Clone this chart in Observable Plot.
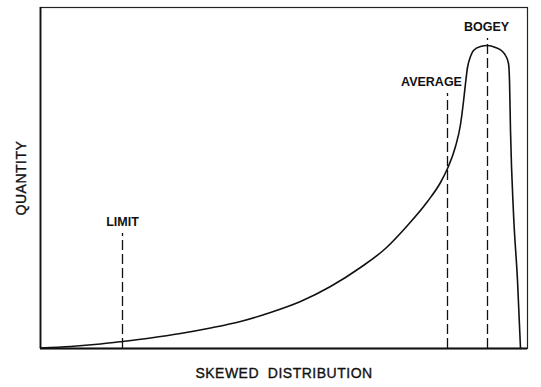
<!DOCTYPE html>
<html>
<head>
<meta charset="utf-8">
<script src="https://cdn.jsdelivr.net/npm/d3@7"></script>
<script src="https://cdn.jsdelivr.net/npm/@observablehq/plot@0.6"></script>
<style>
  html, body { margin: 0; padding: 0; background: #fff; }
  svg { display: block; }
</style>
</head>
<body>
<div id="chart"></div>
<script>
// Curve of the skewed distribution (abstract units)
const curveX = [0, 30, 60, 82, 110, 140, 170, 200, 230, 260, 290, 320, 345, 367, 387, 400, 407, 415, 420, 423, 425, 427, 430, 433, 440, 447, 455, 462, 465, 468, 469, 470, 473, 477, 480];
const curveY = [0.5, 2, 4.5, 7, 10.5, 15, 20.5, 27, 36, 47, 62, 81, 100, 123, 147, 166, 180, 202, 224, 247, 265, 281, 292, 298, 302, 303, 301, 297, 293, 285, 268, 218, 135, 68, 0];

// Reference markers
const markerNames = ["LIMIT", "AVERAGE", "BOGEY"];
const markerX = [82, 407, 447];
const markerTop = [115, 255, 310];
const labelX = [82, 391, 446];

const xTitle = "SKEWED  DISTRIBUTION";
const yTitle = "QUANTITY";

const curve = curveX.map((x, i) => ({x, y: curveY[i]}));
const markers = markerNames.map((name, i) => ({name, x: markerX[i], top: markerTop[i], lx: labelX[i]}));

const font = "'Liberation Sans', Arial, sans-serif";

const chart = Plot.plot({
  width: 541,
  height: 387,
  marginLeft: 40,
  marginRight: 14,
  marginTop: 7,
  marginBottom: 39,
  style: {fontFamily: font, background: "#fff", color: "#111"},
  x: {domain: [0, 487], axis: null},
  y: {domain: [0, 341], axis: null},
  marks: [
    Plot.frame({stroke: "#222", strokeWidth: 1.2}),
    Plot.ruleY([0], {stroke: "#111", strokeWidth: 2}),
    Plot.ruleX([0], {stroke: "#111", strokeWidth: 1.8}),
    Plot.ruleX(markers, {x: "x", y1: 0, y2: "top", stroke: "#111", strokeWidth: 1.3, strokeDasharray: "10,4"}),
    Plot.line(curve, {x: "x", y: "y", curve: "monotone-x", stroke: "#111", strokeWidth: 1.6}),
    Plot.text(markers, {x: "lx", y: "top", text: "name", dy: -12, fontSize: 12.5, fontWeight: "bold", fill: "#111"}),
    Plot.text([xTitle], {frameAnchor: "bottom", lineAnchor: "middle", textAnchor: "middle", dy: 25, fontSize: 14, fill: "#111", stroke: "#111", strokeWidth: 0.35}),
    Plot.text([yTitle], {frameAnchor: "left", lineAnchor: "middle", textAnchor: "middle", rotate: -90, dx: -19, fontSize: 14, fill: "#111", stroke: "#111", strokeWidth: 0.35})
  ]
});
d3.select(chart).selectAll("text")
  .filter(function () { const t = this.textContent; return t === xTitle || t === yTitle; })
  .attr("letter-spacing", 0.5);
document.getElementById("chart").appendChild(chart);
</script>
</body>
</html>
